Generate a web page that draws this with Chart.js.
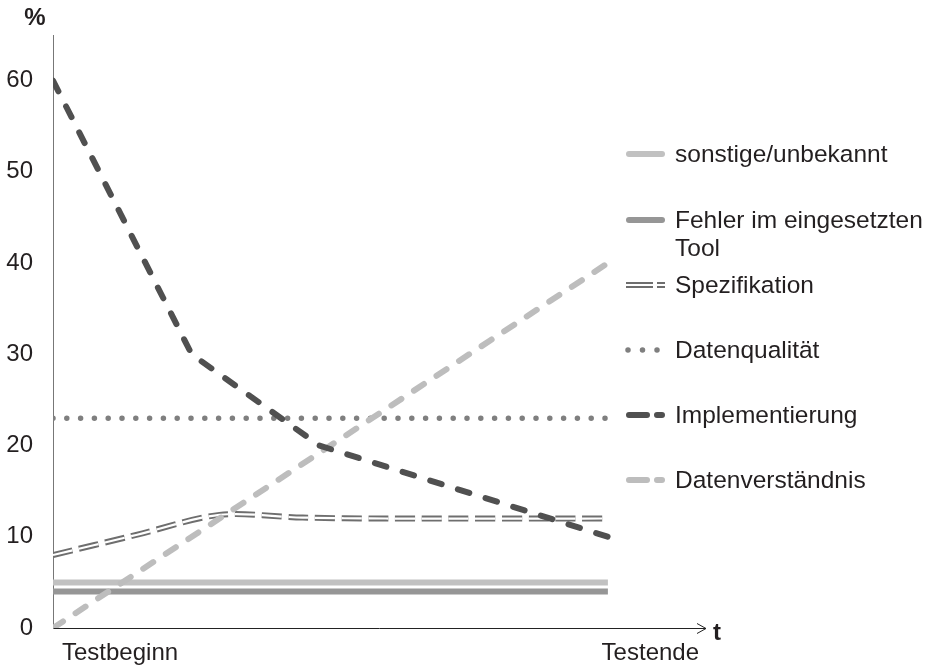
<!DOCTYPE html>
<html>
<head>
<meta charset="utf-8">
<script src="https://cdn.jsdelivr.net/npm/chart.js@4.4.1/dist/chart.umd.min.js"></script>
<style>
  html, body { margin: 0; padding: 0; background: #fff; }
  #wrap { width: 927px; height: 666px; }
</style>
</head>
<body>
<div id="wrap"><canvas id="chart" width="927" height="666"></canvas></div>
<script>
// Data (x: 0 = Testbeginn, 100 = Testende)
const xTickLabels = ['Testbeginn', 'Testende'];
const yTicks = [0, 10, 20, 30, 40, 50, 60];

const sonstigeT = [0, 100];
const sonstige = [5, 5];
const fehlerT = [0, 100];
const fehler = [4, 4];
const spezT = [0, 15, 30, 45, 60, 100];
const spezifikation = [8, 10.2, 12.4, 12.1, 12, 12];
const qualT = [0, 100];
const datenqualitaet = [23, 23];
const implT = [0, 25, 48, 100];
const implementierung = [60, 30, 20, 10];
const verstT = [0, 100];
const datenverstaendnis = [0, 40];

const FONT = '"Liberation Sans", Arial, Helvetica, sans-serif';
const TEXT = '#231f20';

const pts = (xs, ys) => xs.map((x, i) => ({ x: x, y: ys[i] }));

const base = { fill: false, pointRadius: 0, pointHoverRadius: 0, tension: 0 };

const datasets = [
  Object.assign({}, base, { label: 'Implementierung', data: pts(implT, implementierung),
    borderColor: '#505050', borderWidth: 6, borderDash: [12, 17], borderCapStyle: 'round', order: 0 }),
  Object.assign({}, base, { label: 'Datenverständnis', data: pts(verstT, datenverstaendnis),
    borderColor: '#bdbdbd', borderWidth: 6, borderDash: [12, 15], borderCapStyle: 'round', order: 1 }),
  Object.assign({}, base, { label: 'Datenqualität', data: pts(qualT, datenqualitaet),
    borderColor: '#7f7f7f', borderWidth: 5.5, borderDash: [0, 13.8], borderCapStyle: 'round', order: 2 }),
  // Spezifikation: double line = grey stroke with a white stroke on top
  Object.assign({}, base, { label: 'spez-inner', data: pts(spezT, spezifikation), tension: 0.3,
    borderColor: '#ffffff', borderWidth: 2.2, borderDash: [20, 6.7], order: 3 }),
  Object.assign({}, base, { label: 'Spezifikation', data: pts(spezT, spezifikation), tension: 0.3,
    borderColor: '#6e6e6e', borderWidth: 6, borderDash: [20, 6.7], order: 4 }),
  Object.assign({}, base, { label: 'sonstige/unbekannt', data: pts(sonstigeT, sonstige),
    borderColor: '#c1c1c1', borderWidth: 6, borderCapStyle: 'butt', order: 5 }),
  Object.assign({}, base, { label: 'Fehler im eingesetzten Tool', data: pts(fehlerT, fehler),
    borderColor: '#969696', borderWidth: 6, borderCapStyle: 'butt', order: 6 })
];

// legend entries drawn at the right, like the original figure
const legendItems = [
  { lines: ['sonstige/unbekannt'], y: 154, kind: 'solid', color: '#c1c1c1' },
  { lines: ['Fehler im eingesetzten', 'Tool'], y: 220, kind: 'solid', color: '#969696' },
  { lines: ['Spezifikation'], y: 285, kind: 'double', color: '#6e6e6e' },
  { lines: ['Datenqualität'], y: 350, kind: 'dots', color: '#7f7f7f' },
  { lines: ['Implementierung'], y: 415, kind: 'dash', color: '#505050' },
  { lines: ['Datenverständnis'], y: 480, kind: 'dash', color: '#bdbdbd' }
];

const decorPlugin = {
  id: 'decor',
  afterDraw(chart) {
    const ctx = chart.ctx;
    const area = chart.chartArea;
    ctx.save();

    // arrow head on the x axis, and axis names
    const yb = Math.round(area.bottom) + 0.5;
    ctx.strokeStyle = '#222';
    ctx.lineWidth = 1;
    ctx.beginPath();
    ctx.moveTo(area.right - 8, yb - 5);
    ctx.lineTo(area.right + 1, yb);
    ctx.lineTo(area.right - 8, yb + 5);
    ctx.stroke();

    ctx.fillStyle = TEXT;
    ctx.font = 'bold 24px ' + FONT;
    ctx.textBaseline = 'middle';
    ctx.textAlign = 'left';
    ctx.fillText('t', area.right + 8, area.bottom + 5);
    ctx.textAlign = 'center';
    ctx.fillText('%', 35, 18);

    // legend
    const x0 = 626, x1 = 665;
    legendItems.forEach(it => {
      ctx.save();
      ctx.strokeStyle = it.color;
      if (it.kind === 'solid') {
        ctx.lineWidth = 6; ctx.lineCap = 'round';
        ctx.beginPath(); ctx.moveTo(x0 + 3, it.y); ctx.lineTo(x1 - 3, it.y); ctx.stroke();
      } else if (it.kind === 'dash') {
        ctx.lineWidth = 6; ctx.lineCap = 'round'; ctx.setLineDash([18, 10]);
        ctx.beginPath(); ctx.moveTo(x0 + 3, it.y); ctx.lineTo(x1 - 3, it.y); ctx.stroke();
      } else if (it.kind === 'dots') {
        ctx.lineWidth = 5.5; ctx.lineCap = 'round'; ctx.setLineDash([0, 14.5]);
        ctx.beginPath(); ctx.moveTo(x0 + 2, it.y); ctx.lineTo(x1, it.y); ctx.stroke();
      } else if (it.kind === 'double') {
        ctx.lineWidth = 1.8; ctx.setLineDash([27, 4]);
        [-2, 2].forEach(d => {
          ctx.beginPath(); ctx.moveTo(x0, it.y + d); ctx.lineTo(x1, it.y + d); ctx.stroke();
        });
      }
      ctx.restore();

      ctx.fillStyle = TEXT;
      ctx.font = '24.5px ' + FONT;
      ctx.textAlign = 'left';
      ctx.textBaseline = 'alphabetic';
      it.lines.forEach((t, i) => ctx.fillText(t, 675, it.y + 8 + i * 28));
    });
    ctx.restore();
  }
};

new Chart(document.getElementById('chart'), {
  type: 'line',
  data: { datasets: datasets },
  options: {
    responsive: false,
    animation: false,
    layout: { padding: { top: 35, right: 222, left: 0, bottom: 0 } },
    plugins: { legend: { display: false }, tooltip: { enabled: false } },
    scales: {
      x: {
        type: 'linear',
        min: 0,
        max: 117.5,
        grid: { display: false },
        border: { display: true, color: '#222', width: 1 },
        afterBuildTicks: s => { s.ticks = [{ value: 0 }, { value: 114.8 }]; },
        afterFit: s => { s.height = 38; },
        ticks: {
          align: 'inner',
          labelOffset: 9,
          padding: 3,
          color: TEXT,
          font: { family: FONT, size: 24 },
          callback: (v, i) => xTickLabels[i]
        }
      },
      y: {
        min: 0,
        max: 65,
        grid: { display: false },
        border: { display: true, color: '#777', width: 1 },
        afterBuildTicks: s => { s.ticks = yTicks.map(v => ({ value: v })); },
        afterFit: s => { s.width = 53; },
        ticks: {
          padding: 12,
          color: TEXT,
          font: { family: FONT, size: 24 }
        }
      }
    }
  },
  plugins: [decorPlugin]
});
</script>
</body>
</html>
